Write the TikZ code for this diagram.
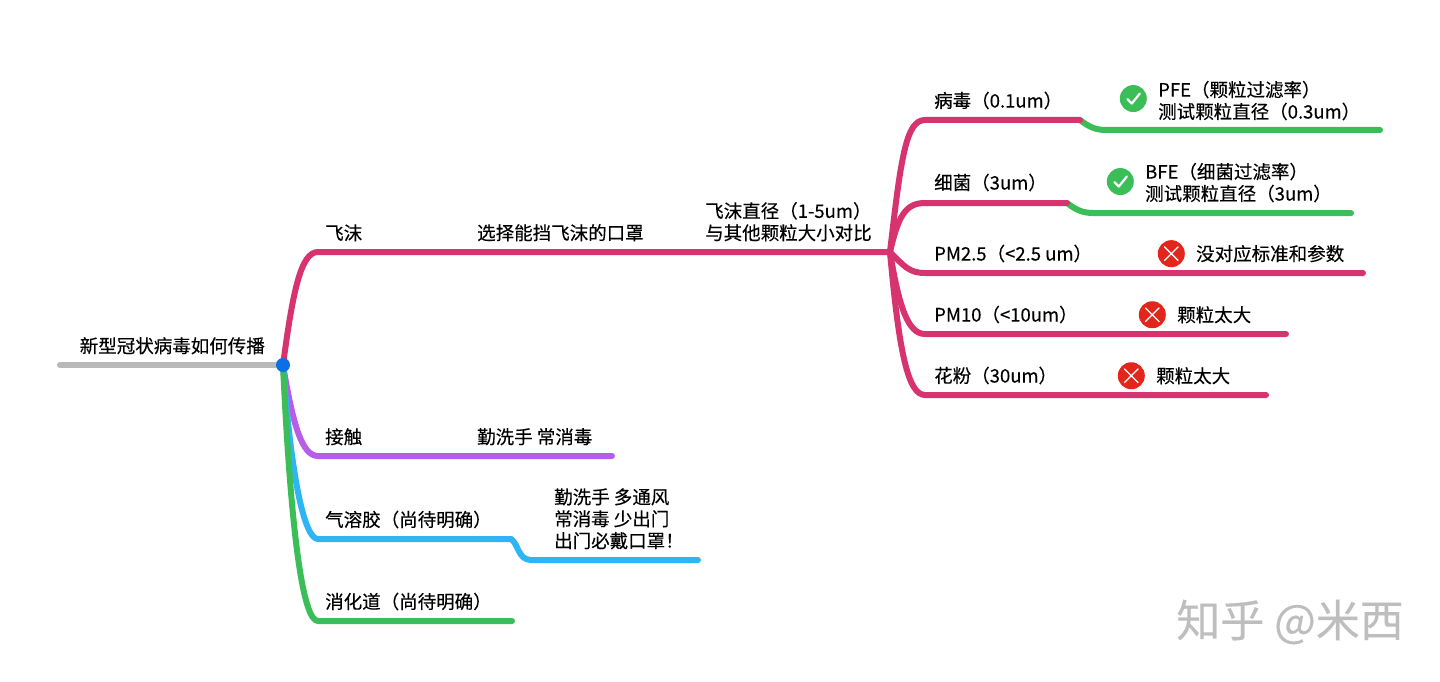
\documentclass[tikz,border=0pt]{standalone}
\usepackage{fontspec}
\setmainfont[FakeBold=0.25]{Noto Sans CJK SC}
\usetikzlibrary{positioning}
\definecolor{rosec}{HTML}{D6336F}
\definecolor{violetc}{HTML}{B65EEA}
\definecolor{skyc}{HTML}{2FB5F3}
\definecolor{greenc}{HTML}{3BBD57}
\definecolor{greyc}{HTML}{B9B9B9}
\definecolor{dotc}{HTML}{0B6FE8}
\definecolor{redc}{HTML}{E3261C}
\definecolor{markc}{HTML}{BEBEBE}
\begin{document}
\begin{tikzpicture}[
  x=1pt, y=-1pt,
  node distance=10.5pt and 7pt,
  lbl/.style={inner sep=0pt, align=left, font=\fontsize{18.5pt}{21.9pt}\selectfont},
  branch/.style={line width=6pt, line cap=round, line join=round},
  okmark/.style={circle, fill=greenc, minimum size=27pt, inner sep=0pt, path picture={
    \draw[white, line width=2.2pt, line cap=round, line join=round]
      ([shift={(-6,0.5)}]path picture bounding box.center) -- ([shift={(-1.5,5)}]path picture bounding box.center) -- ([shift={(6.5,-5)}]path picture bounding box.center);}},
  nomark/.style={circle, fill=redc, minimum size=27pt, inner sep=0pt, path picture={
    \draw[white, line width=1.3pt]
      ([shift={(-7,-7)}]path picture bounding box.center) -- ([shift={(7,7)}]path picture bounding box.center)
      ([shift={(-7,7)}]path picture bounding box.center) -- ([shift={(7,-7)}]path picture bounding box.center);}}
]
\useasboundingbox (0,0) rectangle (1440,682);

% branch points
\coordinate (start) at (60,365);
\coordinate (root) at (283,365);
\coordinate (droplet) at (318,252);
\coordinate (hub) at (890,252);
\coordinate (contact) at (318,456);
\coordinate (contactend) at (612,456);
\coordinate (aerosol) at (318,539);
\coordinate (aerosolmid) at (511,539);
\coordinate (aerosolleaf) at (531,560);
\coordinate (aerosolend) at (698,560);
\coordinate (gut) at (318,621);
\coordinate (gutend) at (512,621);
\coordinate (virus) at (925,120);
\coordinate (virusmid) at (1080,120);
\coordinate (virusleaf) at (1106,130);
\coordinate (virusend) at (1380,130);
\coordinate (germ) at (925,203);
\coordinate (germmid) at (1067,203);
\coordinate (germleaf) at (1093,213);
\coordinate (germend) at (1351,213);
\coordinate (pmsmall) at (925,273);
\coordinate (pmsmallend) at (1363,273);
\coordinate (pmbig) at (925,334);
\coordinate (pmbigend) at (1286,334);
\coordinate (pollen) at (925,395);
\coordinate (pollenend) at (1266,395);

% labels
\node[lbl, above right=of droplet] (dropletlbl) {飞沫};
\node[lbl, above right=10.5pt and 159pt of droplet] (masklbl) {选择能挡飞沫的口罩};
\node[lbl, above right=10.5pt and 387pt of droplet] (sizelbl) {飞沫直径（1-5um）\\与其他颗粒大小对比};
\node[lbl, above left=10.5pt and 18pt of root] (rootlbl) {新型冠状病毒如何传播};
\node[lbl, above right=of contact] (contactlbl) {接触};
\node[lbl, above right=10.5pt and 159pt of contact] (washlbl) {勤洗手 常消毒};
\node[lbl, above right=of aerosol] (aerosollbl) {气溶胶（尚待明确）};
\node[lbl, above right=10.5pt and 23pt of aerosolleaf] (staylbl) {勤洗手 多通风\\常消毒 少出门\\出门必戴口罩！};
\node[lbl, above right=of gut] (gutlbl) {消化道（尚待明确）};
\node[lbl, above right=10.5pt and 9pt of virus] (viruslbl) {病毒（0.1um）};
\node[lbl, above right=11.5pt and 9pt of germ] (germlbl) {细菌（3um）};
\node[lbl, above right=10.5pt and 9pt of pmsmall] (pmsmalllbl) {PM2.5（<2.5 um）};
\node[lbl, above right=10.5pt and 9pt of pmbig] (pmbiglbl) {PM10（<10um）};
\node[lbl, above right=10.5pt and 9pt of pollen] (pollenlbl) {花粉（30um）};
\node[lbl, above right=9.5pt and 52pt of virusleaf] (pfelbl) {PFE（颗粒过滤率）\\测试颗粒直径（0.3um）};
\node[lbl, above right=10.5pt and 52pt of germleaf] (bfelbl) {BFE（细菌过滤率）\\测试颗粒直径（3um）};
\node[lbl, above right=10.5pt and 271pt of pmsmall] (pmsmallnote) {没对应标准和参数};
\node[lbl, above right=10.5pt and 252pt of pmbig] (pmbignote) {颗粒太大};
\node[lbl, above right=10.5pt and 231pt of pollen] (pollennote) {颗粒太大};

% marks
\node[okmark, left=11pt of pfelbl, yshift=2pt] (pfemark) {};
\node[okmark, left=11pt of bfelbl, yshift=1pt] (bfemark) {};
\node[nomark, left=11pt of pmsmallnote] (pmsmallmark) {};
\node[nomark, left=11pt of pmbignote] (pmbigmark) {};
\node[nomark, left=11pt of pollennote] (pollenmark) {};

% connectors
\draw[branch, greyc] (start) -- (root);
\draw[branch, violetc] (root) .. controls +(10,60) and +(-16,0) .. (contact) -- (contactend);
\draw[branch, skyc] (root) .. controls +(8,110) and +(-14,0) .. (aerosol) -- (aerosolmid);
\draw[branch, skyc] (aerosolmid) .. controls +(7,4) and +(-13,0) .. (aerosolleaf) -- (aerosolend);
\draw[branch, greenc] (root) .. controls +(8,170) and +(-15,0) .. (gut) -- (gutend);
\draw[branch, rosec] (root) .. controls +(10,-75) and +(-17,0) .. (droplet) -- (hub);
\draw[branch, greenc] (virusmid) .. controls +(9,7) and +(-10,0) .. (virusleaf) -- (virusend);
\draw[branch, greenc] (germmid) .. controls +(9,7) and +(-10,0) .. (germleaf) -- (germend);
\draw[branch, rosec] (hub) .. controls +(11,-95) and +(-19,0) .. (virus) -- (virusmid);
\draw[branch, rosec] (hub) .. controls +(8,-35) and +(-20,0) .. (germ) -- (germmid);
\draw[branch, rosec] (hub) .. controls +(14,14) and +(-16,0) .. (pmsmall) -- (pmsmallend);
\draw[branch, rosec] (hub) .. controls +(9,55) and +(-17,0) .. (pmbig) -- (pmbigend);
\draw[branch, rosec] (hub) .. controls +(9,100) and +(-17,0) .. (pollen) -- (pollenend);

\node[circle, fill=dotc, minimum size=14pt, inner sep=0pt] (rootdot) at (root) {};
\node[inner sep=0pt, text=markc, font=\fontsize{44pt}{48pt}\selectfont, anchor=east] (watermark) at (1404,622) {知乎 @米西};
\end{tikzpicture}
\end{document}
